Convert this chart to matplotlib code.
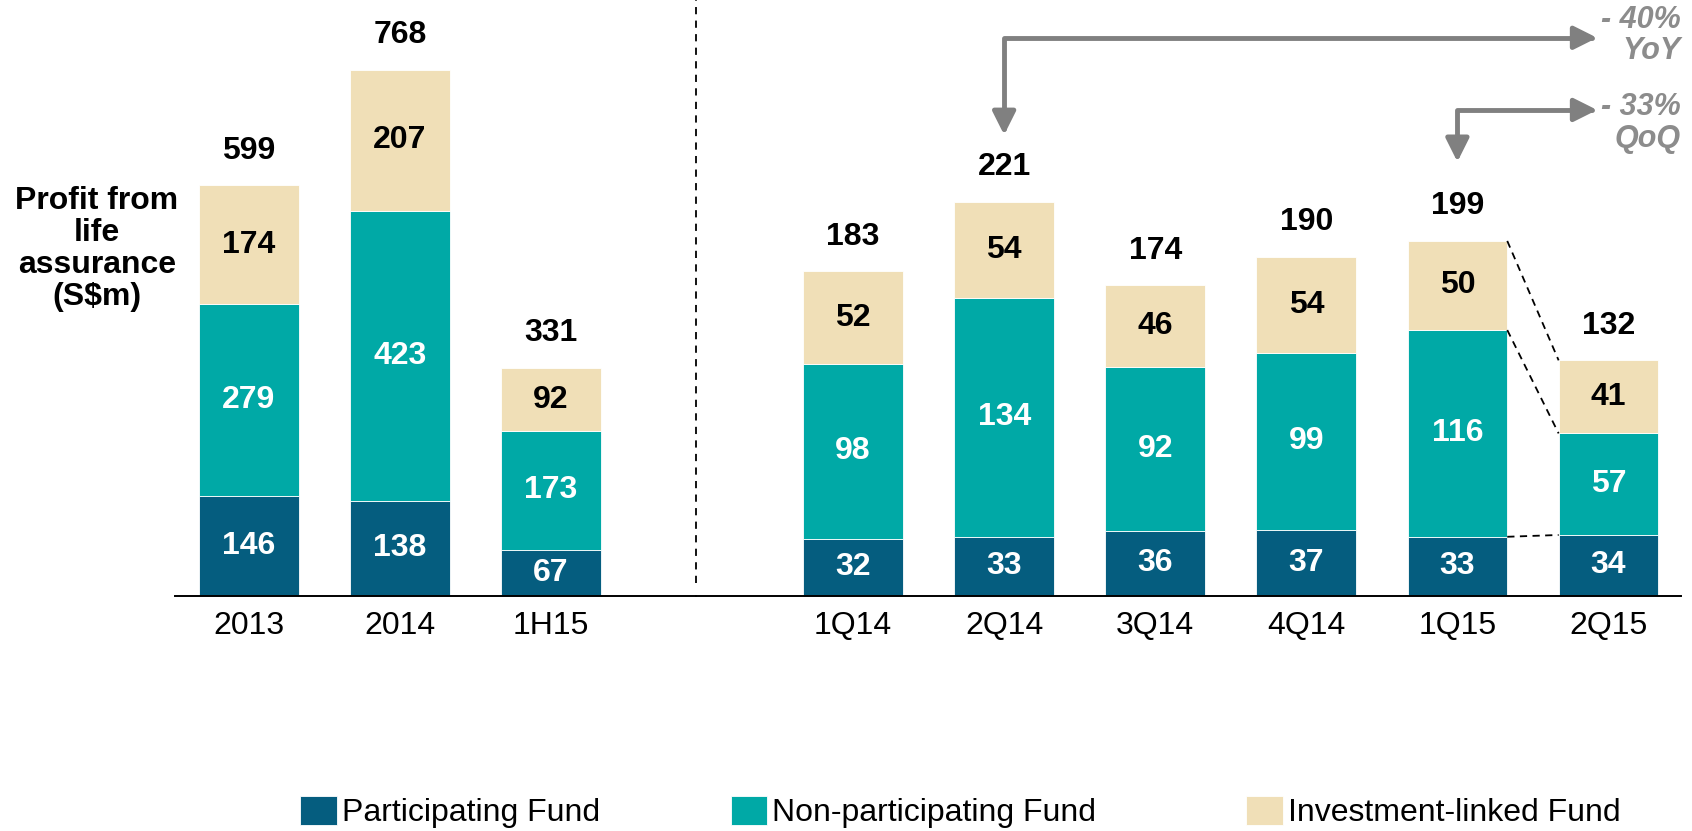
import matplotlib
matplotlib.use("Agg")
import matplotlib.pyplot as plt

plt.rcParams['font.family'] = ['Liberation Sans', 'DejaVu Sans']

# ---- data ----
annual_labels = ["2013", "2014", "1H15"]
annual_par = [146, 138, 67]
annual_nonpar = [279, 423, 173]
annual_il = [174, 207, 92]
annual_total = [599, 768, 331]

quarter_labels = ["1Q14", "2Q14", "3Q14", "4Q14", "1Q15", "2Q15"]
quarter_par = [32, 33, 36, 37, 33, 34]
quarter_nonpar = [98, 134, 92, 99, 116, 57]
quarter_il = [52, 54, 46, 54, 50, 41]
quarter_total = [183, 221, 174, 190, 199, 132]

series_names = ["Participating Fund", "Non-participating Fund", "Investment-linked Fund"]
yoy_text = ["- 40%", "YoY"]
qoq_text = ["- 33%", "QoQ"]

# ---- style ----
C_PAR = "#055D7F"
C_NON = "#00A9A6"
C_IL = "#F0DFB7"
GREY = "#808080"
FS = 23
W = 0.66

fig = plt.figure(figsize=(16.92, 8.31), dpi=100)
ax1 = fig.add_axes([0.1033, 0.2833, 0.3080, 0.7167])
ax2 = fig.add_axes([0.4113, 0.2833, 0.5822, 0.7167])
ax1.set_xlim(-0.49, 2.96)
ax1.set_ylim(0, 869.5)
ax2.set_xlim(2.96, 9.48)
ax2.set_ylim(0, 334.2)

x1 = list(range(len(annual_labels)))
x2 = [4 + i for i in range(len(quarter_labels))]

handles = []
for ax, xs, par, non, il, tot, labs in [
    (ax1, x1, annual_par, annual_nonpar, annual_il, annual_total, annual_labels),
    (ax2, x2, quarter_par, quarter_nonpar, quarter_il, quarter_total, quarter_labels),
]:
    b1 = ax.bar(xs, par, W, color=C_PAR, edgecolor="white", linewidth=0.6)
    bot2 = par
    b2 = ax.bar(xs, non, W, bottom=bot2, color=C_NON, edgecolor="white", linewidth=0.6)
    bot3 = [a + b for a, b in zip(par, non)]
    b3 = ax.bar(xs, il, W, bottom=bot3, color=C_IL, edgecolor="white", linewidth=0.6)
    if not handles:
        handles = [b1, b2, b3]
    ax.bar_label(b1, labels=[str(v) for v in par], label_type="center",
                 color="white", fontsize=FS, fontweight="bold")
    ax.bar_label(b2, labels=[str(v) for v in non], label_type="center",
                 color="white", fontsize=FS, fontweight="bold")
    ax.bar_label(b3, labels=[str(v) for v in il], label_type="center",
                 color="black", fontsize=FS, fontweight="bold")
    tops = [a + b for a, b in zip(bot3, il)]
    for x, t, lab in zip(xs, tops, tot):
        ax.annotate(str(lab), (x, t), xytext=(0, 25), textcoords="offset points",
                    ha="center", va="center", fontsize=FS, fontweight="bold",
                    annotation_clip=False)
    ax.set_xticks(xs)
    ax.set_xticklabels(labs, fontsize=FS)
    ax.tick_params(axis="x", length=0, pad=11)
    ax.set_yticks([])
    for s in ["top", "left", "right"]:
        ax.spines[s].set_visible(False)
    ax.spines["bottom"].set_linewidth(1.4)
    ax.patch.set_alpha(0)

# divider
ax2.plot([2.96, 2.96], [7, 334], ls=(0, (4, 3.5)), color="black", lw=1.3,
         clip_on=False)

# dashed connectors between 1Q15 and 2Q15
i5, i6 = 4, 5
xa, xb = x2[i5] + W / 2, x2[i6] - W / 2
ya = [quarter_par[i5], quarter_par[i5] + quarter_nonpar[i5], quarter_total[i5]]
yb = [quarter_par[i6], quarter_par[i6] + quarter_nonpar[i6], quarter_total[i6]]
for a, b in zip(ya, yb):
    ax2.plot([xa, xb], [a, b], ls=(0, (4, 3)), color="black", lw=1.3)

# arrows
astyle = "<|-|>,head_length=0.7,head_width=0.35"
ax2.annotate("", xy=(8.925, 313), xytext=(x2[1], 258.5),
             arrowprops=dict(arrowstyle=astyle, color=GREY, lw=3.5,
                             connectionstyle="angle,angleA=90,angleB=0,rad=0",
                             shrinkA=0, shrinkB=0, mutation_scale=20),
             annotation_clip=False)
ax2.annotate("", xy=(8.925, 272.5), xytext=(x2[4], 243.4),
             arrowprops=dict(arrowstyle=astyle, color=GREY, lw=3.5,
                             connectionstyle="angle,angleA=90,angleB=0,rad=0",
                             shrinkA=0, shrinkB=0, mutation_scale=20),
             annotation_clip=False)

for txt, yp in zip(yoy_text + qoq_text, [20.5, 51, 107, 139]):
    fig.text(0.9935, 1 - yp / 831, txt, ha="right", va="center", fontsize=FS - 1,
             fontweight="bold", fontstyle="italic", color="#8C8C8C")

# y label
fig.text(97 / 1692, 1 - 249 / 831, "Profit from\nlife\nassurance\n(S$m)", ha="center",
         va="center", fontsize=FS, fontweight="bold", linespacing=1.08)

# legend
leg_x = [300 / 1692, 730.6 / 1692, 1246 / 1692]
for h, name, lx in zip(handles, series_names, leg_x):
    lg = fig.legend([h], [name], loc="center left", bbox_to_anchor=(lx, 1 - 812 / 831),
                    frameon=False, fontsize=FS, handlelength=1.15, handleheight=1.05,
                    handletextpad=0.15, borderpad=0, borderaxespad=0)

fig.savefig("out.png", dpi=100)
